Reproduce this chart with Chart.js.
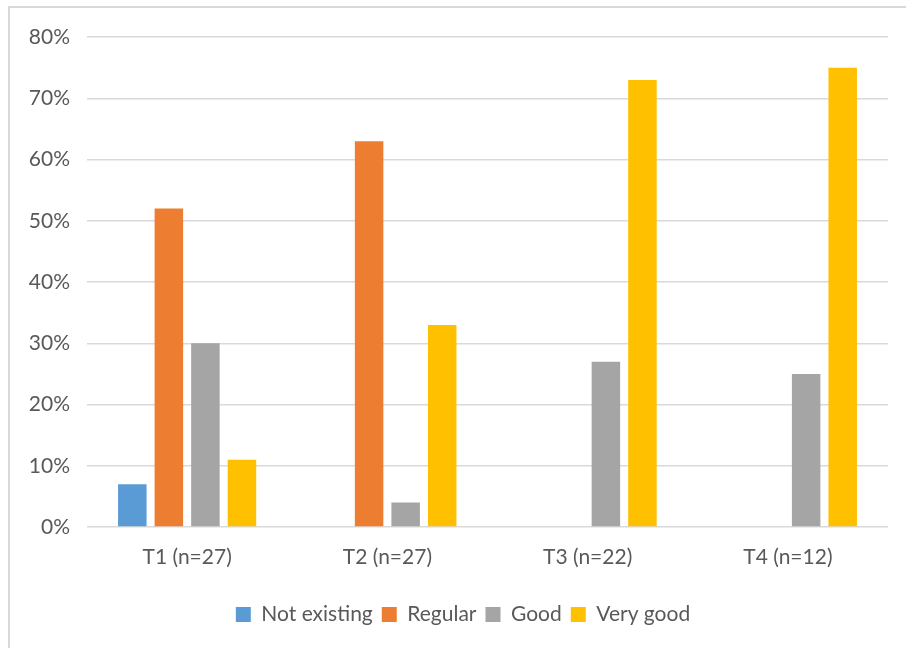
<!DOCTYPE html>
<html>
<head>
<meta charset="utf-8">
<script src="https://cdn.jsdelivr.net/npm/chart.js@4/dist/chart.umd.min.js"></script>
<style>
  html, body { margin: 0; padding: 0; background: #fff; overflow: hidden; }
  #frame { position: absolute; left: 8px; top: 6px; width: 920px; height: 660px;
           border-left: 2px solid #d9d9d9; border-top: 2px solid #d9d9d9; }
  #wrap { position: absolute; left: 0; top: 0; width: 906px; height: 648px; }
</style>
</head>
<body>
<div id="frame"></div>
<div id="wrap"><canvas id="chart" width="906" height="648"></canvas></div>
<script>
const categories = ['T1 (n=27)', 'T2 (n=27)', 'T3 (n=22)', 'T4 (n=12)'];
const notExisting = [7, 0, 0, 0];
const regular = [52, 63, 0, 0];
const good = [30, 4, 27, 25];
const veryGood = [11, 33, 73, 75];

const FONT = 'Lato, "Open Sans", sans-serif';
const TEXT = '#595959';

function ds(label, data, color) {
  return { label, data, backgroundColor: color, borderWidth: 0,
           barPercentage: 0.78, categoryPercentage: 0.73 };
}

// nudge the legend to the right, it sits a bit off centre in the original
const legendShift = {
  id: 'legendShift',
  afterLayout(chart) {
    chart.legend.left += 19;
    chart.legend.right += 19;
  }
};

new Chart(document.getElementById('chart'), {
  type: 'bar',
  data: {
    labels: categories,
    datasets: [
      ds('Not existing', notExisting, '#5B9BD5'),
      ds('Regular', regular, '#ED7D31'),
      ds('Good', good, '#A5A5A5'),
      ds('Very good', veryGood, '#FFC000')
    ]
  },
  plugins: [legendShift],
  options: {
    responsive: false,
    animation: false,
    layout: { padding: { left: 0, right: 18, top: 37, bottom: 13 } },
    plugins: {
      tooltip: { enabled: false },
      legend: {
        position: 'bottom',
        labels: {
          boxWidth: 15, boxHeight: 15, padding: 9,
          color: TEXT, font: { family: FONT, size: 21 }
        }
      }
    },
    scales: {
      x: {
        grid: { display: false },
        border: { display: false },
        ticks: { color: TEXT, font: { family: FONT, size: 21 }, padding: 10 },
        afterFit: s => { s.height = 68; }
      },
      y: {
        min: 0, max: 80,
        grid: { color: '#d9d9d9', lineWidth: 1.5, drawTicks: false },
        border: { display: false },
        ticks: {
          stepSize: 10, padding: 17, color: TEXT,
          font: { family: FONT, size: 21 },
          callback: v => v + '%'
        },
        afterFit: s => { s.width = 87; }
      }
    }
  }
});
</script>
</body>
</html>
